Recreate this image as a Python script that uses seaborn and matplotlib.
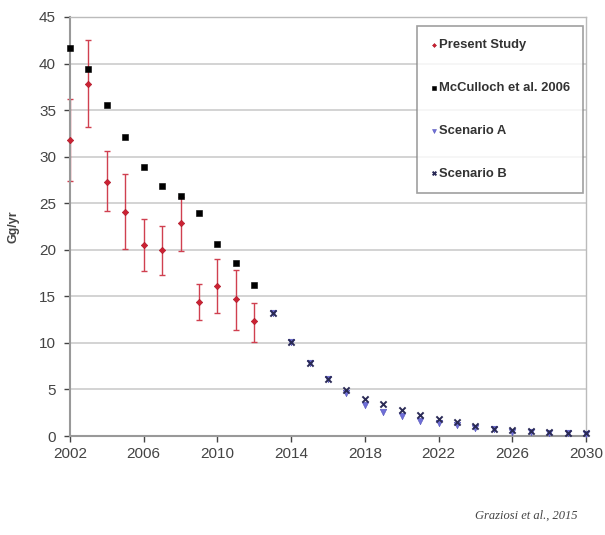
import matplotlib
matplotlib.use("Agg")
import matplotlib.pyplot as plt
import seaborn as sns
import pandas as pd
import numpy as np

# Data
years_obs = [2002, 2003, 2004, 2005, 2006, 2007, 2008, 2009, 2010, 2011, 2012]
present = [31.8, 37.8, 27.3, 24.1, 20.5, 20.0, 22.9, 14.4, 16.1, 14.7, 12.3]
present_lo = [27.4, 33.2, 24.2, 20.1, 17.7, 17.3, 19.9, 12.5, 13.2, 11.4, 10.1]
present_hi = [36.2, 42.5, 30.6, 28.1, 23.3, 22.5, 25.7, 16.3, 19.0, 17.8, 14.3]
mcculloch = [41.7, 39.4, 35.6, 32.1, 28.9, 26.9, 25.8, 23.9, 20.6, 18.6, 16.2]

years_scen = list(range(2013, 2031))
scen_a = [13.2, 10.1, 7.8, 6.1, 4.6, 3.3, 2.6, 2.1, 1.6, 1.4, 1.2, 0.9, 0.7, 0.4, 0.4, 0.3, 0.3, 0.2]
scen_b = [13.2, 10.1, 7.8, 6.1, 4.9, 4.0, 3.4, 2.8, 2.3, 1.8, 1.5, 1.1, 0.8, 0.6, 0.5, 0.4, 0.3, 0.3]

xticks = [2002, 2006, 2010, 2014, 2018, 2022, 2026, 2030]
yticks = [0, 5, 10, 15, 20, 25, 30, 35, 40, 45]

sns.set_theme(style="white")
plt.rcParams['font.family'] = ['Liberation Sans', 'DejaVu Sans']

fig = plt.figure(figsize=(6.05, 5.35), dpi=100)
ax = fig.add_axes([70/605, 99/535, 516/605, 419/535])

df_p = pd.DataFrame({"year": years_obs, "val": present})
df_m = pd.DataFrame({"year": years_obs, "val": mcculloch})
df_a = pd.DataFrame({"year": years_scen, "val": scen_a})
df_b = pd.DataFrame({"year": years_scen, "val": scen_b})

yerr = [np.array(present) - np.array(present_lo), np.array(present_hi) - np.array(present)]
eb = ax.errorbar(years_obs, present, yerr=yerr, fmt='none', ecolor='#d04050',
                 elinewidth=1.0, capsize=2.5, capthick=1.0, zorder=2)
for art in eb.get_children():
    art.set_clip_on(False)

sns.scatterplot(data=df_m, x="year", y="val", ax=ax, marker='s', s=20,
                color='black', edgecolor='black', linewidth=0.4, label='McCulloch et al. 2006',
                zorder=3, clip_on=False)
sns.scatterplot(data=df_p, x="year", y="val", ax=ax, marker='D', s=11,
                color='#cc2233', edgecolor='#aa1122', linewidth=0.4, label='Present Study',
                zorder=4, clip_on=False)
sns.scatterplot(data=df_a, x="year", y="val", ax=ax, marker='v', s=22,
                color='#6f6fd8', edgecolor='#5555bb', linewidth=0.4, label='Scenario A',
                zorder=3, clip_on=False)
sns.scatterplot(data=df_b, x="year", y="val", ax=ax, marker='x', s=20,
                color='#2a2a55', linewidth=1.4, label='Scenario B', zorder=4, clip_on=False)

ax.set_xlim(2002, 2030)
ax.set_ylim(0, 45)
ax.set_xticks(xticks)
ax.set_yticks(yticks)
ax.set_xlabel("")
ax.set_ylabel("Gg/yr", fontsize=9, fontweight='bold', color='#444444', labelpad=14)
ax.tick_params(axis='both', labelsize=11, colors='#444444', length=4, width=1,
               direction='out', bottom=True, left=True)
ax.tick_params(axis='x', pad=4)
ax.tick_params(axis='y', pad=6)
ax.grid(axis='y', color='#cccccc', linewidth=1.2)
ax.set_axisbelow(True)
for side in ['left', 'bottom']:
    ax.spines[side].set_color('#999999')
    ax.spines[side].set_linewidth(1.5)
for side in ['right', 'top']:
    ax.spines[side].set_color('#bbbbbb')
    ax.spines[side].set_linewidth(1.0)

handles, labels = ax.get_legend_handles_labels()
order = ['Present Study', 'McCulloch et al. 2006', 'Scenario A', 'Scenario B']
hmap = dict(zip(labels, handles))
leg = ax.legend([hmap[k] for k in order], order, loc='upper right',
                bbox_to_anchor=(0.994, 0.978), frameon=True, fancybox=False,
                fontsize=9.4, labelspacing=2.35, handletextpad=0.05, handlelength=0.6,
                borderpad=1.0, borderaxespad=0.0, markerscale=0.6)
leg.get_frame().set_edgecolor('#888888')
leg.get_frame().set_linewidth(1.2)
for t in leg.get_texts():
    t.set_fontweight('bold')
    t.set_color('#333333')

fig.text(0.955, 0.025, "Graziosi et al., 2015", fontsize=9, style='italic',
         family=['Liberation Serif', 'DejaVu Serif'], ha='right', va='bottom', color='#444444')

fig.savefig("out.png", dpi=100)
